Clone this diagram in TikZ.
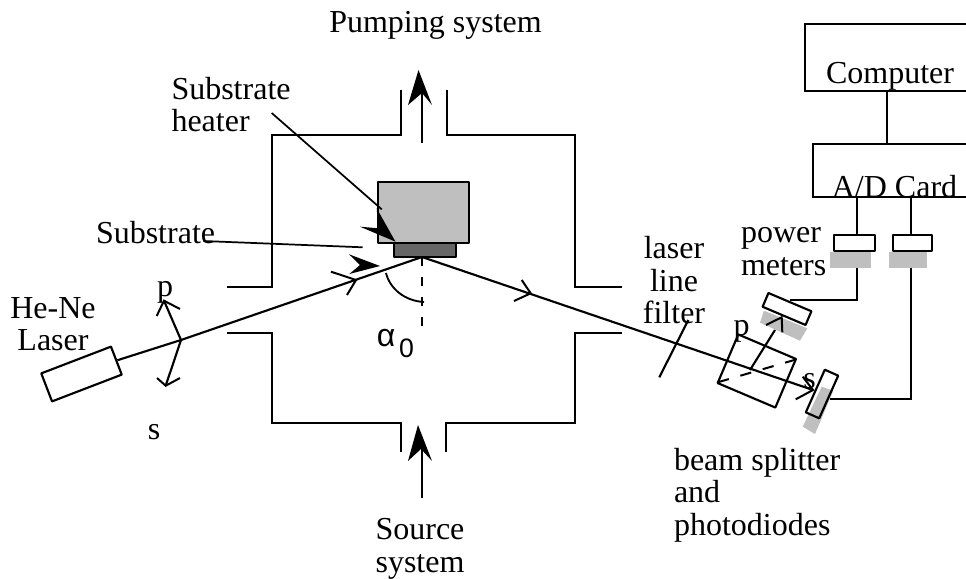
\documentclass[tikz,border=0pt]{standalone}
\usepackage{fontspec}
\setmainfont{Liberation Serif}
\newfontfamily\symfont{Liberation Sans}
\definecolor{lightg}{gray}{0.75}
\definecolor{darkg}{gray}{0.4}
\tikzset{
  wall/.style={line width=1.6pt,line join=miter},
  lab/.style={font=\fontsize{24}{24.2}\selectfont,inner sep=0pt,outer sep=0pt,text=black},
  box/.style={draw,line width=1.6pt,line join=round,inner sep=0pt},
  beam/.style={line width=1.6pt},
  barb/.style={line width=1.5pt,line join=miter},
  head/.style={fill=black,draw=none},
  shade/.style={fill=lightg,draw=none}
}
\begin{document}
\begin{tikzpicture}[x=0.75pt,y=-0.75pt]
\useasboundingbox (0,0) rectangle (966,578);
% chamber
\draw[wall] (227,287) -- (272,287) -- (272,135) -- (401,135) -- (401,90);
\draw[wall] (447,90) -- (447,135) -- (575,135) -- (575,287) -- (622,287);
\draw[wall] (227,333) -- (272,333) -- (272,423) -- (401,423) -- (401,452);
\draw[wall] (446,452) -- (446,423) -- (575,423) -- (575,333) -- (622,333);
% pump and source arrows
\coordinate (pumpA) at (422,143);
\coordinate (pumpB) at (422,90);
\draw[beam] (pumpA) -- (pumpB);
\fill[head] (418.5,70) -- (432,105) -- (422,93) -- (408,105) -- cycle;
\coordinate (srcA) at (422,498);
\coordinate (srcB) at (422,448);
\draw[beam] (srcA) -- (srcB);
\fill[head] (418,425) -- (432,461) -- (421,449) -- (408,461) -- cycle;
% heater and substrate
\node[box,fill=lightg,minimum width=68.25pt,minimum height=45.75pt] (heater) at (423.5,212.5) {};
\node[box,fill=darkg,minimum width=46.5pt,minimum height=10.5pt] (subst) at (425,250) {};
% normal and angle
\coordinate (surf) at (422,257);
\coordinate (normEnd) at (422,330);
\draw[line width=1.4pt,dash pattern=on 7pt off 8pt] (surf) -- (normEnd);
\draw[line width=1.4pt] (386,273) .. controls (390,289) and (405,301) .. (424,302);
% laser and beams
\node[box,rotate=21,minimum width=56pt,minimum height=22.5pt] (laser) at (81.5,374) {};
\coordinate (pol) at (181,340);
\coordinate (beamEnd) at (813,390);
\draw[beam] (laser.east) -- (pol) -- (surf);
\draw[beam] (surf) -- (beamEnd);
\draw[barb] (331,271.7) -- (356,280) -- (347,295);
\draw[barb] (521.7,280) -- (530.7,293.3) -- (514,301);
\fill[head] (380,266) -- (349,254.3) -- (360,265) -- (349.3,274) -- cycle;
% polarisation arrows
\coordinate (pTip) at (164,300.7);
\coordinate (sTip) at (165.7,385.7);
\draw[beam] (pTip) -- (pol) -- (sTip);
\draw[barb] (156.7,316) -- (pTip) -- (180,309);
\draw[barb] (157,378) -- (sTip) -- (180,378);
% pointers
\coordinate (heatFrom) at (271.7,113);
\coordinate (heatTo) at (381.7,209.3);
\draw[line width=1.3pt] (heatFrom) -- (heatTo);
\fill[head] (395.5,241.7) -- (376.7,208.3) -- (378.3,228.3) -- (360,226.7) -- cycle;
\coordinate (subFrom) at (203.3,241);
\coordinate (subTo) at (362.7,247.3);
\draw[line width=1.3pt] (subFrom) -- (subTo);
% computer side
\draw[wall] (966,24.3) -- (805,24.3) -- (805,90.7) -- (966,90.7);
\draw[wall] (966,144.3) -- (812.7,144.3) -- (812.7,197.3) -- (966,197.3);
\coordinate (cLink) at (886.7,90.7);
\coordinate (aLink) at (886.7,144.3);
\draw[wall] (cLink) -- (aLink);
\node[box,minimum width=30.75pt,minimum height=12pt] (meterA) at (854.5,243) {};
\node[box,minimum width=28.75pt,minimum height=12pt] (meterB) at (912.5,243) {};
\coordinate (aOutA) at (857,197.3);
\coordinate (aOutB) at (911.3,197.3);
\draw[wall] (aOutA) -- (aOutA |- meterA.north);
\draw[wall] (aOutB) -- (aOutB |- meterB.north);
\fill[shade] (830,251.7) rectangle (870.7,267.7);
\fill[shade] (889,251.7) rectangle (926.7,267.7);
% detectors
\node[box,rotate=-23,minimum width=35pt,minimum height=11.2pt] (detP) at (787,309) {};
\fill[shade] (764,310.7) -- (807.3,328.3) -- (800,340.7) -- (760,322.7) -- cycle;
\fill[shade] (821.7,386.7) -- (833.3,390.7) -- (815,434) -- (802.7,426.7) -- cycle;
\node[box,rotate=66,minimum width=35pt,minimum height=11pt] (detS) at (822,394) {};
\coordinate (wireA) at (857,300);
\coordinate (wireB) at (911,399);
\draw[wall] (857,267.7) -- (wireA) -- (detP.north |- wireA);
\draw[wall] (911,267.7) -- (wireB) -- (detS.south |- wireB);
% splitter
\node[box,rotate=-23,minimum width=47pt,minimum height=39.6pt] (cube) at (756.8,371) {};
\coordinate (cubeA) at (796,359.5);
\coordinate (cubeB) at (717.7,382.3);
\draw[line width=1.5pt,dash pattern=on 8.5pt off 9pt] (cubeA) -- (cubeB);
\coordinate (split) at (750,370);
\coordinate (splitTo) at (775,330);
\draw[beam] (split) -- (splitTo);
\draw[barb] (766,325) -- (781.7,317.3) -- (782.3,332.3);
\draw[barb] (795.7,399.3) -- (beamEnd) -- (802.7,376.7);
% filter
\coordinate (filtA) at (688.3,320);
\coordinate (filtB) at (659.3,377.3);
\draw[beam] (filtA) -- (filtB);
% labels
\node[lab,anchor=base] (tPump) at (435.5,32.3) {Pumping system};
\node[lab,anchor=base west,align=left] (tHeat) at (171.5,131.7) {Substrate\\heater};
\node[lab,anchor=base west] (tSub) at (96,243.3) {Substrate};
\node[lab,anchor=base,align=center] (tLaser) at (53,350.7) {He-Ne\\Laser};
\node[lab,anchor=base] (tp) at (165,296.7) {p};
\node[lab,anchor=base] (ts) at (154,439.3) {s};
\node[lab,anchor=base,align=center] (tSrc) at (420,572) {Source\\system};
\node[lab,anchor=base,align=center] (tFilter) at (674,323.3) {laser\\line\\filter};
\node[lab,anchor=base west,align=left] (tPower) at (741,275) {power\\meters};
\node[lab,anchor=base west,align=left] (tBS) at (674,535) {beam splitter\\and\\photodiodes};
\node[lab,anchor=base] (tp2) at (741.5,335) {p};
\node[lab,anchor=base] (ts2) at (809.5,388) {s};
\node[lab,anchor=base] (tComp) at (890,83.3) {Computer};
\node[lab,anchor=base] (tAD) at (894.5,197.3) {A/D Card};
\node[lab,anchor=base,font=\fontsize{24}{26}\symfont] (alpha) at (386,346.7) {α};
\node[lab,anchor=base,font=\fontsize{20}{22}\symfont] (zero) at (406.5,357.7) {0};
\end{tikzpicture}
\end{document}
